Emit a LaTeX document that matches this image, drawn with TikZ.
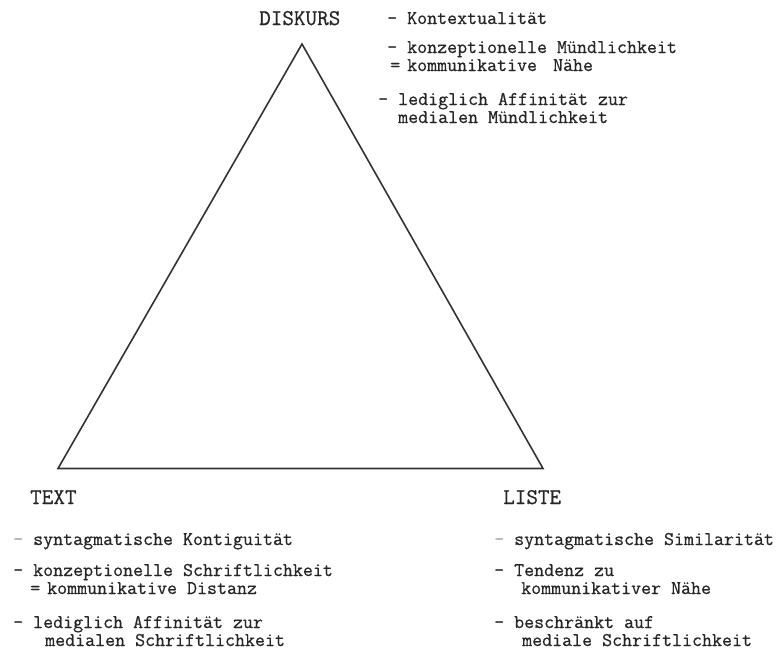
\documentclass[tikz,border=0pt]{standalone}
\usepackage{fontspec}
\newfontfamily\tw[FakeBold=0.6]{Latin Modern Mono}
\begin{document}
\begin{tikzpicture}[x=1pt,y=-1pt,
  item/.style={anchor=base west,inner sep=0pt,text height=10pt,text depth=3pt,text=black!85,font=\tw\fontsize{19.4}{22}\selectfont},
  lbl/.style={anchor=base west,inner sep=0pt,text=black!85,font=\tw\fontsize{22.5}{26}\selectfont},
  edge/.style={draw=black!80,line width=1.6pt,line join=miter}]
\useasboundingbox (0,0) rectangle (784,651);
% triangle corners
\coordinate (apex) at (302,44);
\coordinate (bl) at (58,468.5);
\coordinate (br) at (543,468.5);
\draw[edge] (apex) -- (bl) -- (br) -- cycle;
% labels
\node[lbl] (diskurs) at (259,25) {DISKURS};
\node[lbl] (text) at (30,504) {TEXT};
\node[lbl] (liste) at (503,504) {LISTE};
% DISKURS items
\node[item] (d1) at (387,24) {- Kontextualität};
\node[item] (d2) at (387,53) {- konzeptionelle Mündlichkeit};
\node[item] (d3) at (390,71) {=\hspace{7pt}kommunikative\hspace{16pt}Nähe};
\node[item] (d4) at (378,105) {- lediglich Affinität zur};
\node[item] (d5) at (398,123) {medialen Mündlichkeit};
% TEXT items
\node[item] (t1) at (13,545) {\textcolor{black!35}{-} syntagmatische Kontiguität};
\node[item] (t2) at (13,576) {- konzeptionelle Schriftlichkeit};
\node[item] (t3) at (30,594) {=\hspace{7pt}kommunikative Distanz};
\node[item] (t4) at (13,628) {- lediglich Affinität zur};
\node[item] (t5) at (45,646) {medialen Schriftlichkeit};
% LISTE items
\node[item] (l1) at (494,545) {\textcolor{black!35}{-} syntagmatische Similarität};
\node[item] (l2) at (494,576) {- Tendenz zu};
\node[item] (l3) at (521,594) {kommunikativer Nähe};
\node[item] (l4) at (494,628) {- beschränkt auf};
\node[item] (l5) at (522,646) {mediale Schriftlichkeit};
\end{tikzpicture}
\end{document}
